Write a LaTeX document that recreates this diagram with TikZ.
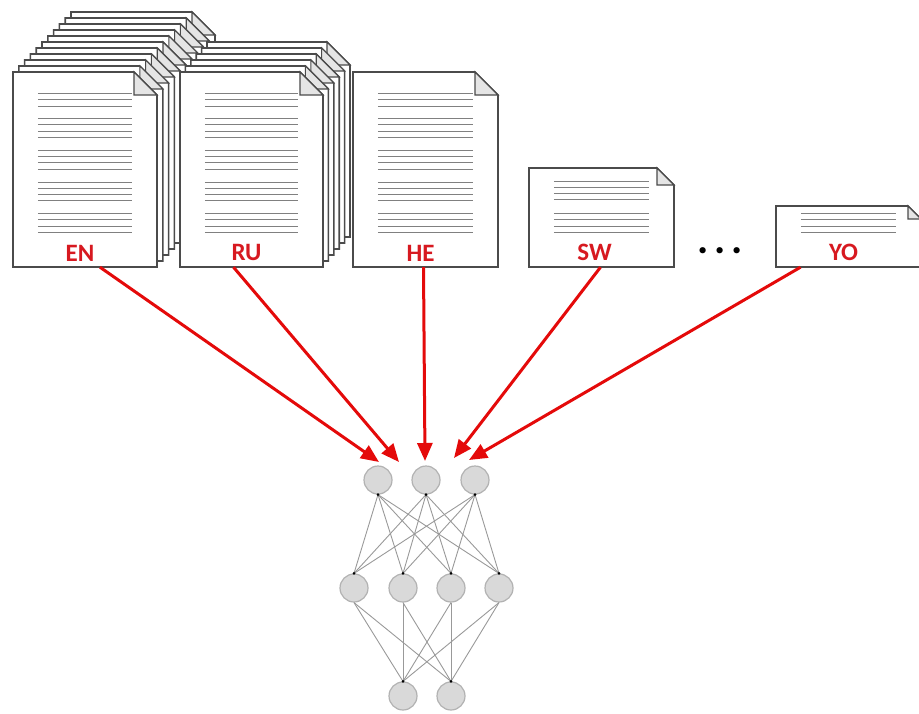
\documentclass[tikz,border=0pt]{standalone}
\usepackage{tikz}
\usepackage{xcolor}
\usepackage{fontspec}
\setsansfont{Carlito}
\usetikzlibrary{positioning,arrows.meta}
\definecolor{labelRed}{RGB}{215,25,32}
\definecolor{arrowRed}{RGB}{228,10,10}
\definecolor{pageEdge}{RGB}{75,75,75}
\definecolor{neuronGray}{RGB}{217,217,217}

% sheet of paper: left, top, width, height, fold
\newcommand{\docsheet}[5]{%
  \draw[sheet] (#1,#2) -- (#1+#3-#5,#2) -- (#1+#3,#2+#5) -- (#1+#3,#2+#4) -- (#1,#2+#4) -- cycle;
  \draw[fold] (#1+#3-#5,#2) -- (#1+#3-#5,#2+#5) -- (#1+#3,#2+#5) -- cycle;
}
% text lines on a page: node name, offsets from the bottom
\newcommand{\doclines}[2]{%
  \foreach \ly in {#2} \draw[textline] ([xshift=25,yshift=\ly]#1.south west) -- ([xshift=-25,yshift=\ly]#1.south east);
}

\begin{document}
\begin{tikzpicture}[x=1pt, y=-1pt]
            % Styles
            \tikzstyle{sheet} = [draw=pageEdge, line width=1.6pt, fill=white, line join=miter]
            \tikzstyle{fold} = [draw=pageEdge, line width=1.1pt, fill=black!10]
            \tikzstyle{textline} = [draw=black!50, line width=1.4pt]
            \tikzstyle{pagebox} = [rectangle, inner sep=0pt, minimum height=195pt]
            \tikzstyle{lang} = [text=labelRed, inner sep=0pt, font=\fontsize{25}{25}\selectfont\sffamily\bfseries]
            \tikzstyle{arrow} = [-{Triangle[length=18pt,width=15pt]}, line width=3pt, arrowRed]
            \tikzstyle{neuron} = [circle, minimum size=28pt, inner sep=0pt, fill=neuronGray, draw=black!30, line width=1.2pt]
            \tikzstyle{link} = [draw=black!40, line width=0.9pt]
            \tikzstyle{joint} = [fill=black, circle, inner sep=0pt, minimum size=3pt]

            \useasboundingbox (0,0) rectangle (919,713);

            % Pages
            \foreach \k in {10,...,1} {\docsheet{13+5.8*\k}{72-6*\k}{144}{195}{23}}
            \docsheet{13}{72}{144}{195}{23}
            \foreach \k in {5,...,1} {\docsheet{180+5.4*\k}{72-6*\k}{143}{195}{23}}
            \docsheet{180}{72}{143}{195}{23}
            \docsheet{353}{72}{145}{195}{23}
            \docsheet{529}{168}{145}{99}{17}
            \docsheet{776}{206}{145}{61}{13}

            \node[pagebox, minimum width=144pt] (en) at (85,169.5) {};
            \node[pagebox, minimum width=143pt] (ru) at (251.5,169.5) {};
            \node[pagebox, minimum width=145pt] (he) at (425.5,169.5) {};
            \node[pagebox, minimum width=145pt, minimum height=99pt] (sw) at (601.5,217.5) {};
            \node[pagebox, minimum width=145pt, minimum height=61pt] (yo) at (848.5,236.5) {};

            \doclines{en}{174,168,161,149,143,136,130,117,111,105,98,85,79,73,67,54,48,41,35}
            \doclines{ru}{174,168,161,149,143,136,130,117,111,105,98,85,79,73,67,54,48,41,35}
            \doclines{he}{174,168,161,149,143,136,130,117,111,105,98,85,79,73,67,54,48,41,35}
            \doclines{sw}{86,80,74,68,54,48,41,35}
            \doclines{yo}{54,48,41,35}

            % Labels
            \node[lang, above=6pt of en.south, xshift=-5pt] (enlabel) {EN};
            \node[lang, above=6pt of ru.south, xshift=-5pt] (rulabel) {RU};
            \node[lang, above=6pt of he.south, xshift=-5pt] (helabel) {HE};
            \node[lang, above=6pt of sw.south, xshift=-7pt] (swlabel) {SW};
            \node[lang, above=6pt of yo.south, xshift=-5pt] (yolabel) {YO};
            \node[inner sep=0pt, font=\fontsize{42}{42}\selectfont\sffamily\bfseries] (dots) at (720,251) {.\hspace{6pt}.\hspace{6pt}.};

            % Network
            \node[neuron] (t1) at (378,480) {};
            \node[neuron] (t2) at (426,480) {};
            \node[neuron] (t3) at (475,480) {};
            \node[neuron] (m1) at (354,588) {};
            \node[neuron] (m2) at (403,588) {};
            \node[neuron] (m3) at (451,588) {};
            \node[neuron] (m4) at (499,588) {};
            \node[neuron] (b1) at (403,696) {};
            \node[neuron] (b2) at (451,696) {};

            \foreach \i in {1,2,3}
              \foreach \j in {1,...,4}
                \draw[link] (t\i.south) -- (m\j.north);
            \foreach \j in {1,...,4}
              \foreach \k in {1,2}
                \draw[link] (m\j.south) -- (b\k.north);
            \foreach \i in {1,2,3} \node[joint] (tdot\i) at (t\i.south) {};
            \foreach \j in {1,...,4} \node[joint] (mdot\j) at (m\j.north) {};
            \foreach \k in {1,2} \node[joint] (bdot\k) at (b\k.north) {};

            % Arrows
            \coordinate (enin) at (379,462);
            \coordinate (ruin) at (399,462);
            \coordinate (hein) at (425,461);
            \coordinate (swin) at (454,458);
            \coordinate (yoin) at (469,460);
            \draw[arrow] ([xshift=15pt]en.south) -- (enin);
            \draw[arrow] ([xshift=-18pt]ru.south) -- (ruin);
            \draw[arrow] ([xshift=-2pt]he.south) -- (hein);
            \draw[arrow] ([xshift=-1pt]sw.south) -- (swin);
            \draw[arrow] ([xshift=-48pt]yo.south) -- (yoin);
        \end{tikzpicture}
\end{document}
